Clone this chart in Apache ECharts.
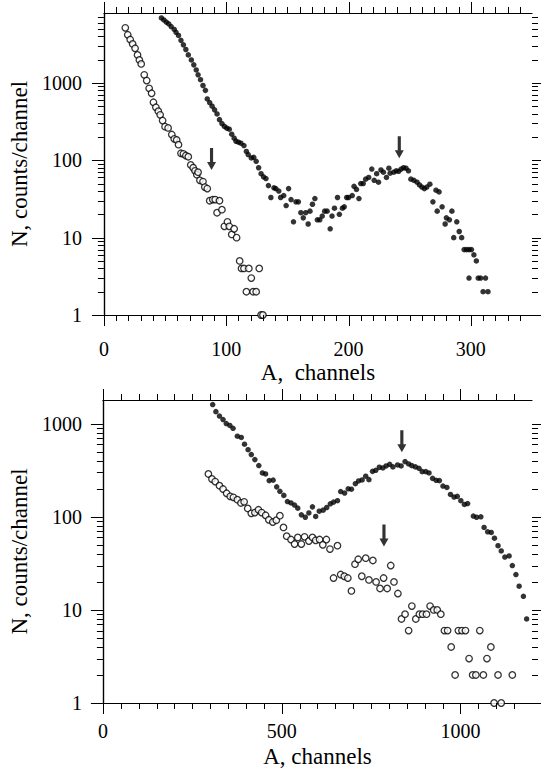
<!DOCTYPE html>
<html>
<head>
<meta charset="utf-8">
<script src="https://cdn.jsdelivr.net/npm/echarts@6/dist/echarts.min.js"></script>
<style>
html, body { margin: 0; padding: 0; background: #fff; }
#chart { width: 541px; height: 772px; }
</style>
</head>
<body>
<div id="chart"></div>
<script>
// [channel A, counts N]
var topOpen = [
    [17.5, 5140], [19.5, 4180], [21.5, 3630], [23.5, 3190], [25.5, 2800], [27.5, 2300], [29, 1980],
    [30.5, 1760], [33, 1270], [35, 1070], [37, 850], [39, 734], [40.5, 561], [42.5, 484], [44.5, 430],
    [46, 386], [48, 326], [50, 272], [52.5, 262], [55.5, 215], [57.5, 189], [59.5, 183], [61, 159],
    [63, 123], [65, 121], [67, 115], [69, 111], [71, 87], [73, 80], [74.5, 73], [76, 65], [77, 70],
    [78.5, 55], [81, 53], [82.5, 45], [84.5, 43], [86.5, 30], [89, 31], [91, 31], [92.5, 21], [94.5, 30],
    [96.5, 23], [98.5, 14], [101, 16], [102.5, 14], [104.5, 11], [106.5, 13], [108.5, 10], [111, 5],
    [112.5, 4], [114.5, 4], [116.5, 2], [118.5, 4], [120.5, 3], [122, 2], [124.5, 2], [127, 4],
    [128.5, 1], [130, 1]
];

var topSolid = [
    [47, 6900], [49, 6500], [51, 6100], [53, 5800], [55, 5350], [57.5, 4900], [59, 4500], [61, 4100],
    [63, 3550], [65, 3100], [67, 2700], [69, 2300], [71.5, 1980], [73.5, 1710], [75.5, 1470], [77, 1270],
    [79, 1100], [81, 925], [83, 800], [84.5, 620], [86.5, 555], [88.5, 500], [90.5, 448], [92.5, 397],
    [94.5, 335], [96.5, 298], [98.5, 274], [100.5, 260], [102.5, 252], [104.5, 217], [106.5, 193],
    [108, 176], [110, 171], [112, 166], [114.5, 155], [116.5, 130], [118, 118], [120.5, 107], [122.5, 109],
    [124.5, 97], [126.5, 80], [128.5, 67], [130.5, 61], [132.5, 58], [134.5, 47], [136.5, 33], [139, 44],
    [140.5, 43], [143, 40], [144.5, 33], [147, 35], [149, 26], [151, 43], [153, 31], [155, 16], [157, 29],
    [159, 29], [161, 21], [163, 18], [165, 21], [167, 15], [168.5, 22], [170.5, 27], [172.5, 32],
    [174.5, 17], [176.5, 17], [178.5, 19], [180.5, 22], [182.5, 22], [185, 13], [186.5, 19], [188.5, 24],
    [191, 33], [192.5, 20], [195, 24], [196.5, 25], [198.5, 33], [200, 33], [203, 35], [204.5, 46],
    [206.5, 42], [208.5, 32], [210, 50], [212, 50], [214, 57], [216.5, 60], [219, 77], [221, 55],
    [223, 67], [224.5, 52], [226.5, 75], [228.5, 70], [231, 60], [233, 79], [234, 68], [237, 70],
    [239, 73], [241, 72], [243, 77], [245, 80], [247, 79], [249, 73], [251, 57], [253.5, 55], [256, 52],
    [258, 48], [260, 45], [262, 43], [264, 45], [266.5, 49], [269, 29], [271.5, 41], [272.5, 22],
    [274, 39], [276.5, 25], [279, 15], [280, 18], [282.5, 17], [284.5, 22], [286, 10], [288.5, 16],
    [290.5, 12], [292.5, 10], [294.5, 7], [296.5, 7], [298.5, 7], [300.5, 7], [302.5, 6], [304.5, 5],
    [298.5, 3], [306, 3], [308, 3], [312, 3], [310, 2], [314, 2]
];

var bottomOpen = [
    [295, 289], [305, 255], [314, 239], [326, 216], [336, 199], [346, 179], [356, 166], [365, 162],
    [376, 153], [386, 141], [395, 145], [405, 123], [415, 109], [425, 111], [435, 119], [444, 111],
    [455, 104], [464, 93], [475, 88], [485, 92], [495, 103], [505, 77], [514, 62], [526, 57], [536, 51],
    [545, 60], [555, 51], [564, 61], [576, 55], [586, 60], [595, 56], [606, 57], [615, 50], [625, 57],
    [635, 45], [645, 22], [656, 49], [665, 24], [675, 23], [685, 22], [695, 16], [705, 31], [714, 35],
    [724, 23], [735, 36], [744, 21], [755, 34], [764, 20], [775, 17], [785, 22], [795, 17], [805, 30],
    [814, 20], [825, 15], [835, 8], [845, 9], [855, 6], [864, 11], [875, 8], [885, 9], [894, 9], [905, 9],
    [915, 11], [925, 10], [935, 10], [945, 9], [955, 6], [964, 6], [974, 4], [985, 2], [994, 6],
    [1004, 6], [1014, 6], [1024, 3], [1034, 2], [1043, 2], [1054, 6], [1064, 2], [1074, 3], [1085, 4],
    [1094, 1], [1105, 2], [1114, 1], [1145, 2]
];

var bottomSolid = [
    [307, 1610], [316, 1350], [326, 1210], [336, 1110], [345, 1005], [355, 960], [364, 893], [376, 735],
    [387, 712], [396, 603], [406, 526], [415, 467], [425, 412], [436, 356], [446, 296], [455, 289],
    [465, 245], [476, 248], [486, 210], [495, 188], [506, 170], [516, 146], [526, 141], [536, 134],
    [545, 124], [555, 105], [566, 99], [576, 110], [586, 128], [595, 101], [605, 115], [616, 118],
    [626, 126], [636, 138], [645, 144], [656, 149], [665, 187], [676, 180], [686, 200], [695, 198],
    [706, 227], [715, 243], [725, 249], [735, 273], [744, 251], [754, 308], [763, 316], [773, 341],
    [783, 335], [792, 352], [802, 367], [811, 344], [824, 361], [834, 352], [845, 392], [855, 370],
    [864, 355], [874, 344], [884, 332], [893, 306], [903, 306], [912, 296], [922, 259], [932, 247],
    [941, 245], [951, 214], [962, 207], [972, 174], [982, 163], [991, 166], [1001, 149], [1011, 136],
    [1020, 139], [1036, 102], [1045, 99], [1057, 100], [1066, 77], [1076, 69], [1086, 68], [1095, 59],
    [1105, 49], [1114, 43], [1124, 37], [1136, 38], [1145, 30], [1155, 24], [1164, 18], [1176, 14],
    [1185, 8]
];

// arrow tips
var topArrows = [[88, 75], [241.5, 106]];
var bottomArrows = [[786, 48], [836, 494]];

var topXTicks = [0, 100, 200, 300];
var bottomXTicks = [0, 500, 1000];
var yTicks = [1, 10, 100, 1000];

var topRange = { x: [0, 350], y: [1, 8000], step: 10 };
var bottomRange = { x: [0, 1200], y: [1, 1800], step: 50 };

var serif = 'Liberation Serif';
var ink = '#000';
var arrowPath = 'path://M2.6,0 L5.4,0 L5.4,14 L8,14 L4,22 L0,14 L2.6,14 Z';

// tick marks on all four sides: [x, y, kind]  kind 0/1 = x major/minor, 2/3 = y major/minor
function buildTicks(range, xMajor) {
    var items = [];
    for (var x = range.x[0]; x < range.x[1]; x += range.step) {
        items.push([x, range.y[0], xMajor.indexOf(x) > -1 ? 0 : 1]);
    }
    yTicks.forEach(function(d) {
        items.push([range.x[0], d, 2]);
        for (var m = 2; m <= 9; m++) {
            if (d * m < range.y[1]) {
                items.push([range.x[0], d * m, 3]);
            }
        }
    });
    return items;
}

function tickRenderer(range) {
    return function(params, api) {
        var kind = api.value(2);
        var style = { stroke: ink, lineWidth: 1 };
        if (kind < 2) {
            var len = kind === 0 ? 11 : 6;
            var b = api.coord([api.value(0), range.y[0]]);
            var t = api.coord([api.value(0), range.y[1]]);
            var x = Math.round(b[0]) + 0.5;
            return {
                type: 'group',
                children: [
                    { type: 'line', shape: { x1: x, y1: b[1], x2: x, y2: b[1] + len }, style: style },
                    { type: 'line', shape: { x1: x, y1: t[1], x2: x, y2: t[1] - len }, style: style }
                ]
            };
        }
        var ylen = kind === 2 ? 12 : 6;
        var l = api.coord([range.x[0], api.value(1)]);
        var r = api.coord([range.x[1], api.value(1)]);
        var y = Math.round(l[1]) + 0.5;
        return {
            type: 'group',
            children: [
                { type: 'line', shape: { x1: l[0] - ylen, y1: y, x2: l[0], y2: y }, style: style },
                { type: 'line', shape: { x1: r[0], y1: y, x2: r[0] + ylen, y2: y }, style: style }
            ]
        };
    };
}

function decadeLabel(v) {
    var l = Math.log(v) / Math.LN10;
    return Math.abs(l - Math.round(l)) < 1e-6 ? String(Math.round(v)) : '';
}

var axisLine = { show: true, lineStyle: { color: ink, width: 1.2 } };
var labelStyle = { color: ink, fontFamily: serif, fontSize: 20 };
var nameStyle = { color: ink, fontFamily: serif, fontSize: 23 };

function xAxes(grid, range, majors, name, margin, gap) {
    return [
        {
            gridIndex: grid, type: 'value', position: 'bottom',
            min: range.x[0], max: range.x[1], interval: majors[1] - majors[0],
            axisLine: axisLine, axisTick: { show: false }, splitLine: { show: false },
            axisLabel: Object.assign({
                margin: margin,
                formatter: function(v) { return majors.indexOf(v) > -1 ? String(v) : ''; }
            }, labelStyle),
            name: name, nameLocation: 'middle', nameGap: gap, nameTextStyle: nameStyle
        },
        {
            gridIndex: grid, type: 'value', position: 'top',
            min: range.x[0], max: range.x[1],
            axisLine: axisLine, axisTick: { show: false }, axisLabel: { show: false },
            splitLine: { show: false }
        }
    ];
}

function yAxes(grid, range, margin, gap) {
    return [
        {
            gridIndex: grid, type: 'log', logBase: 10, position: 'left',
            min: range.y[0], max: range.y[1],
            axisLine: axisLine, axisTick: { show: false }, splitLine: { show: false },
            axisLabel: Object.assign({ margin: margin, formatter: decadeLabel }, labelStyle),
            name: 'N, counts/channel', nameLocation: 'middle', nameGap: gap, nameRotate: 90,
            nameTextStyle: nameStyle
        },
        {
            gridIndex: grid, type: 'log', logBase: 10, position: 'right',
            min: range.y[0], max: range.y[1],
            axisLine: axisLine, axisTick: { show: false }, axisLabel: { show: false },
            splitLine: { show: false }
        }
    ];
}

function panelSeries(xi, yi, range, majors, open, solid, arrows) {
    return [
        {
            type: 'custom', xAxisIndex: xi, yAxisIndex: yi, silent: true, clip: false, z: 5,
            renderItem: tickRenderer(range), data: buildTicks(range, majors)
        },
        {
            type: 'scatter', xAxisIndex: xi, yAxisIndex: yi, data: open,
            symbol: 'circle', symbolSize: 6.5,
            itemStyle: { color: '#fff', borderColor: ink, borderWidth: 1.3 }
        },
        {
            type: 'scatter', xAxisIndex: xi, yAxisIndex: yi, data: solid,
            symbol: 'circle', symbolSize: 5.5, itemStyle: { color: ink }
        },
        {
            type: 'scatter', xAxisIndex: xi, yAxisIndex: yi, data: arrows,
            symbol: arrowPath, symbolSize: [9, 22], symbolOffset: [0, '-50%'],
            itemStyle: { color: ink }
        }
    ];
}

var myChart = echarts.init(document.getElementById('chart'), null, { renderer: 'svg' });

var option = {
    backgroundColor: '#fff',
    animation: false,
    grid: [
        { left: 102, top: 13, width: 430, height: 302 },
        { left: 101, top: 400, width: 431, height: 303 }
    ],
    xAxis: xAxes(0, topRange, topXTicks, 'A,  channels', 24, 46)
        .concat(xAxes(1, bottomRange, bottomXTicks, 'A, channels', 18, 42)),
    yAxis: yAxes(0, topRange, 22, 70).concat(yAxes(1, bottomRange, 21, 67)),
    series: panelSeries(0, 0, topRange, topXTicks, topOpen, topSolid, topArrows)
        .concat(panelSeries(2, 2, bottomRange, bottomXTicks, bottomOpen, bottomSolid, bottomArrows))
};

myChart.setOption(option);
</script>
</body>
</html>
